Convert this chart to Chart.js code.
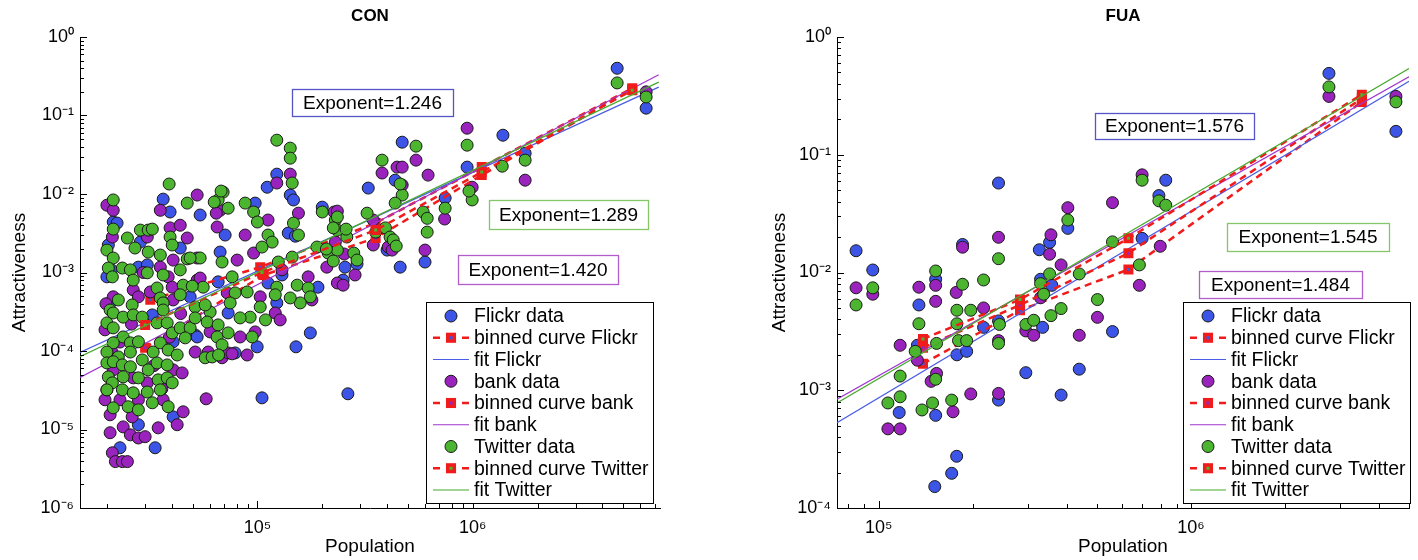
<!DOCTYPE html>
<html><head><meta charset="utf-8">
<script src="https://cdn.jsdelivr.net/npm/chart.js@4"></script>
<style>
html,body{margin:0;padding:0;background:#fff;width:1418px;height:560px;overflow:hidden}
canvas{position:absolute;top:0}
#c1{left:0}
#c2{left:757px}
</style></head><body>
<canvas id="c1" width="709" height="560"></canvas>
<canvas id="c2" width="661" height="560"></canvas>
<script>
// ---------------- DATA (population, attractiveness) ----------------
const seriesNames = ['Flickr', 'bank', 'Twitter'];
const titles = ['CON', 'FUA'];
const exponentsCON = ['1.246', '1.289', '1.420'];
const exponentsFUA = ['1.576', '1.545', '1.484'];

const conFlickr = [[3.65e4,8.6e-3],[3.93e4,5.9e-3],[2.14e4,4.4e-3],[2.23e4,4.26e-3],[2.03e4,2.24e-3],[2.86e4,2.44e-3],[4.38e4,2.05e-3],[2.0e4,8.8e-4],[2.8e4,1.17e-3],[3.08e4,1.25e-3],[2.1e4,1.08e-3],[2.07e4,4.1e-4],[4.87e4,4.9e-4],[3.25e4,2.88e-4],[5.14e4,1.6e-4],[4.06e4,1.31e-4],[2.8e4,1.15e-5],[4.06e4,1.45e-5],[3.35e4,5.85e-6],[2.3e4,5.85e-6],
[1.23e5,0.0179],[1.11e5,0.0122],[1.42e5,9.7e-3],[1.47e5,8.4e-3],[1.39e5,3.18e-3],[2.0e5,6.8e-3],[5.42e4,5.4e-3],[9.76e4,7.66e-3],[7.08e4,3.0e-3],[6.71e4,1.82e-3],[6.57e4,7.6e-4],[1.12e5,7.35e-4],[1.30e5,9.3e-4],[1.23e5,4.1e-4],[7.31e4,3.05e-4],[9.97e4,1.13e-4],[5.25e4,1.51e-4],[7.88e4,9.45e-5],[1.91e5,6.5e-4],[1.76e5,1.70e-4],[1.51e5,1.13e-4],[1.05e5,2.53e-5],
[4.7e5,0.0457],[1.38e6,0.0561],[9.41e5,0.022],[4.36e5,0.015],[3.27e5,0.0119],[7.44e5,8.9e-3],[6.0e5,1.36e-3],[4.6e5,1.17e-3],[2.55e5,1.17e-3],[2.5e5,8.0e-4],[1.5e5,2.9e-3],[2.9e5,1.28e-3],[4.0e5,1.93e-3],[4.68e6,0.40],[6.38e6,0.124],[2.63e5,2.85e-5],[1.75e6,0.033]];

const conBank = [[3.54e4,6.2e-3],[5.25e4,9.7e-3],[2.0e4,7.2e-3],[2.14e4,6.2e-3],[2.12e4,2.83e-3],[3.08e4,2.83e-3],[3.93e4,3.7e-3],[4.38e4,4.0e-3],[4.72e4,2.75e-3],[4.06e4,1.44e-3],[5.25e4,1.53e-3],[3.54e4,1.17e-3],[3.85e4,8.8e-4],[4.02e4,6.5e-4],[5.25e4,8.0e-4],[2.14e4,4.9e-4],[2.65e4,6.0e-4],[2.8e4,4.9e-4],[3.18e4,5.65e-4],[4.06e4,4.47e-4],[5.14e4,9.7e-5],[4.06e4,5.75e-5],[4.47e4,5.26e-5],[2.65e4,4.55e-5],[3.08e4,3.93e-5],[1.96e4,2.39e-5],[2.3e4,2.39e-5],[2.8e4,2.39e-5],[3.65e4,2.39e-5],[4.52e4,1.68e-5],[2.07e4,1.54e-5],[2.62e4,1.45e-5],[4.24e4,1.15e-5],[3.46e4,1.05e-5],[2.38e4,1.08e-5],[2.07e4,9.1e-6],[2.57e4,8.55e-6],[2.8e4,7.8e-6],[3.01e4,8.1e-6],[2.12e4,5.05e-6],[2.19e4,3.9e-6],[2.36e4,3.9e-6],[2.49e4,3.9e-6],[5.78e4,2.46e-5],
[2.0e4,3.2e-5],[2.14e4,5.75e-5],[1.96e4,1.86e-4],[2.3e4,1.3e-4],[3.3e4,6.5e-5],[2.6e4,2.2e-4],[3.9e4,1.5e-4],[2.1e4,1.0e-4],[4.4e4,3.0e-4],[1.98e4,4.0e-4],[3.6e4,3.3e-5],[2.95e4,1.0e-3],
[1.42e5,0.0179],[1.23e5,0.0138],[1.55e5,5.7e-3],[2.27e5,5.9e-3],[6.71e4,6.2e-3],[1.12e5,4.66e-3],[6.5e4,3.8e-3],[8.77e4,3.0e-3],[9.6e4,1.77e-3],[8.05e4,1.44e-3],[5.42e4,8.5e-4],[7.24e4,5.5e-4],[1.3e5,1.08e-3],[1.03e5,4.9e-4],[1.21e5,3.05e-4],[1.275e5,2.49e-4],[8.31e4,1.51e-4],[9.76e4,1.75e-4],[6.03e4,1.75e-4],[6.85e4,8.2e-5],[7.31e4,9.45e-5],[8.96e4,8.9e-5],[1.72e5,8.8e-4],[1.79e5,4.47e-4],[2.1e5,1.17e-3],[2.35e5,7.35e-4],
[9.41e5,0.0689],[9.93e5,0.0122],[1.75e6,0.015],[5.45e5,0.027],[3.79e5,0.0185],[4.45e5,0.022],[4.7e5,0.022],[4.7e5,0.013],[6.2e5,0.0174],[7.4e5,4.8e-3],[6.0e5,1.93e-3],[3.45e5,4.66e-3],[2.18e5,1.77e-3],[2.84e5,9.3e-4],[2.5e5,6.9e-4],[3.45e5,2.24e-3],[4.05e5,2.11e-3],[4.22e5,1.93e-3],[2.35e5,6.05e-3],[2.3e5,2.44e-3],[2.53e5,1.72e-3],[6.38e6,0.2],[6.44e4,5.7e-3],[5.91e4,9.7e-5],[7.63e4,9.2e-5]];

const conTwitter = [[3.89e4,0.0134],[4.72e4,7.66e-3],[2.14e4,8.4e-3],[2.14e4,3.57e-3],[2.49e4,2.75e-3],[2.0e4,1.93e-3],[2.14e4,1.53e-3],[2.86e4,3.47e-3],[3.11e4,3.47e-3],[2.7e4,2.05e-3],[3.11e4,1.82e-3],[3.54e4,1.67e-3],[3.93e4,2.83e-3],[4.02e4,2.24e-3],[4.72e4,1.49e-3],[2.03e4,1.14e-3],[2.12e4,8.8e-4],[2.36e4,1.14e-3],[2.57e4,1.08e-3],[2.65e4,8.0e-4],[3.08e4,9.9e-4],[3.65e4,9.3e-4],[3.42e4,6.35e-4],[4.38e4,1.08e-3],[4.52e4,6.9e-4],[2.26e4,4.47e-4],[2.07e4,3.33e-4],[2.14e4,3.05e-4],[2.62e4,3.86e-4],[3.54e4,4.74e-4],[3.65e4,4.1e-4],[4.38e4,5.2e-4],[5.14e4,3.64e-4],[2.0e4,2.28e-4],[2.14e4,1.97e-4],[2.38e4,2.7e-4],[2.65e4,2.88e-4],[2.92e4,2.7e-4],[3.42e4,2.28e-4],[3.81e4,2.28e-4],[4.02e4,1.70e-4],[4.38e4,1.97e-4],[4.87e4,1.97e-4],[4.62e4,1.47e-4],[3.65e4,3.33e-4],[2.38e4,1.51e-4],[2.57e4,1.27e-4],[2.14e4,1.27e-4],[2.0e4,9.7e-5],[2.26e4,8.4e-5],[2.57e4,9.7e-5],[2.8e4,1.31e-4],[3.28e4,9.7e-5],[3.54e4,1.27e-4],[3.85e4,1.03e-4],[4.24e4,8.9e-5],[2.0e4,7.05e-5],[2.14e4,7.3e-5],[2.36e4,6.65e-5],[2.57e4,6.3e-5],[2.92e4,7.7e-5],[3.11e4,5.75e-5],[3.42e4,7.05e-5],[3.81e4,6.65e-5],[2.03e4,4.68e-5],[2.12e4,3.93e-5],[2.38e4,4.68e-5],[2.8e4,4.55e-5],[3.46e4,4.29e-5],[3.81e4,4.55e-5],[4.02e4,3.93e-5],[2.0e4,3.2e-5],[2.36e4,3.2e-5],[2.65e4,2.93e-5],[3.08e4,3.0e-5],[3.54e4,3.2e-5],[2.14e4,1.89e-5],[2.51e4,1.95e-5],[2.8e4,1.78e-5],[3.25e4,2.19e-5],[3.85e4,1.95e-5],[3.25e4,3.57e-3],
[1.23e5,0.0485],[1.42e5,0.0384],[1.42e5,0.0286],[1.45e5,0.0138],[1.47e5,4.26e-3],[1.55e5,3.0e-3],[2.0e5,5.9e-3],[2.3e5,4.66e-3],[2.35e5,3.47e-3],[6.93e4,0.01057],[6.57e4,8.4e-3],[7.31e4,6.6e-3],[8.77e4,7.66e-3],[9.6e4,5.9e-3],[1.0e5,4.4e-3],[1.12e5,3.0e-3],[1.17e5,2.44e-3],[1.05e5,2.11e-3],[6.85e4,1.36e-3],[5.42e4,1.53e-3],[4.87e4,1.53e-3],[5.6e4,6.5e-4],[7.63e4,8.8e-4],[7.88e4,5.5e-4],[8.96e4,5.65e-4],[1.23e5,6.5e-4],[1.25e5,1.36e-3],[1.21e5,5.2e-4],[1.03e5,3.64e-4],[1.09e5,2.49e-4],[9.25e4,2.7e-4],[8.31e4,2.64e-4],[7.47e4,4.1e-4],[6.03e4,3.14e-4],[5.14e4,2.64e-4],[5.84e4,2.34e-4],[6.57e4,2.15e-4],[6.5e4,1.51e-4],[7.31e4,1.70e-4],[9.45e4,1.51e-4],[6.85e4,1.20e-4],[5.72e4,8.2e-5],[6.16e4,8.4e-5],[1.53e5,6.9e-4],[1.72e5,6.35e-4],[1.76e5,4.9e-4],[1.58e5,4.1e-4],[1.42e5,4.74e-4],[1.89e5,2.11e-3],[2.13e5,1.77e-3],[1.45e5,1.57e-3],
[9.41e5,0.0419],[9.93e5,8.4e-3],[9.6e5,0.0109],[1.75e6,0.027],[1.37e6,0.0226],[5.45e5,0.0407],[3.79e5,0.027],[4.7e5,9.7e-3],[4.36e5,7.66e-3],[4.6e5,0.0134],[7.44e5,6.6e-3],[5.88e5,5.9e-3],[6.14e5,4.9e-3],[6.14e5,3.27e-3],[3.23e5,5.7e-3],[2.35e5,5.1e-3],[2.25e5,3.7e-3],[2.6e5,2.83e-3],[2.35e5,1.93e-3],[2.8e5,1.77e-3],[2.9e5,1.44e-3],[3.54e5,3.27e-3],[3.93e5,3.7e-3],[4.13e5,2.83e-3],[4.27e5,2.6e-3],[4.41e5,2.17e-3],[4.68e6,0.26],[6.38e6,0.172],[2.09e5,1.99e-3],[2.25e5,1.40e-3],[2.58e5,3.57e-3],[6.3e4,7.9e-3],[6.78e4,0.0109],[4.98e4,6.7e-4],[5.72e4,3.86e-4],[6.6e4,8.9e-5]];

const conBinFlickr = [[3.18e4,4.5e-4],[1.03e5,1.17e-3],[3.54e5,4.26e-3],[1.1e6,0.022],[5.5e6,0.222]];
const conBinBank = [[3.01e4,1.1e-4],[1.07e5,9.3e-4],[3.54e5,2.75e-3],[1.1e6,0.0174],[5.5e6,0.215]];
const conBinTwitter = [[3.01e4,2.15e-4],[1.05e5,1.0e-3],[3.54e5,3.47e-3],[1.1e6,0.019],[5.5e6,0.21]];
const conFitFlickr = [[1.5e4,9.6e-5],[7.3e6,0.23]];
const conFitBank = [[1.5e4,4.6e-5],[7.3e6,0.33]];
const conFitTwitter = [[1.5e4,8.45e-5],[7.3e6,0.266]];

const fuaFlickr = [[8.46e4,0.0153],[9.57e4,0.0105],[1.345e5,5.3e-3],[1.33e5,2.41e-3],[1.163e5,6.47e-4],[1.522e5,8.76e-3],[1.522e5,6.12e-4],[1.512e5,1.52e-4],[1.713e5,1.97e-4],[1.777e5,2.75e-4],[1.78e5,2.0e-3],[1.913e5,2.14e-3],[1.856e5,0.0173],[2.167e5,3.42e-3],[2.42e5,0.0575],[2.42e5,8.25e-4],[2.42e5,3.88e-3],[2.96e5,1.41e-3],[3.27e5,0.0156],[3.527e5,0.018],[3.35e5,3.42e-3],[3.30e5,8.76e-3],[3.587e5,7.78e-3],[3.84e5,9.1e-4],[4.035e5,0.0237],[4.39e5,1.51e-3],[5.61e5,3.15e-3],[6.98e5,0.0195],[7.9e5,0.045],[8.31e5,0.0608],[2.77e6,0.491],[4.54e6,0.158]];
const fuaBank = [[8.46e4,7.41e-3],[9.57e4,6.54e-3],[1.07e5,4.7e-4],[1.171e5,4.7e-4],[1.171e5,2.41e-3],[1.345e5,7.5e-3],[1.33e5,1.8e-3],[1.472e5,1.19e-3],[1.522e5,5.69e-3],[1.522e5,7.78e-3],[1.532e5,1.39e-3],[1.771e5,6.77e-3],[1.856e5,0.0164],[1.73e5,6.56e-4],[1.972e5,9.3e-4],[2.167e5,5.0e-3],[2.42e5,0.0199],[2.42e5,2.64e-3],[2.42e5,9.4e-4],[2.96e5,3.19e-3],[3.137e5,2.93e-3],[3.30e5,6.1e-3],[3.527e5,0.0143],[3.563e5,0.0209],[3.84e5,0.0116],[4.035e5,0.0355],[4.39e5,2.93e-3],[5.02e5,4.16e-3],[5.61e5,0.0392],[6.84e5,7.78e-3],[6.98e5,0.0675],[7.98e5,0.0167],[2.77e6,0.313],[4.54e6,0.313]];
const fuaTwitter = [[8.46e4,5.3e-3],[9.57e4,7.41e-3],[1.07e5,7.8e-4],[1.171e5,8.8e-4],[1.171e5,1.32e-3],[1.309e5,2.14e-3],[1.345e5,3.67e-3],[1.376e5,6.8e-4],[1.487e5,7.8e-4],[1.522e5,1.24e-3],[1.522e5,0.0103],[1.532e5,2.5e-3],[1.713e5,8.25e-4],[1.78e5,4.78e-3],[1.78e5,3.67e-3],[1.801e5,2.64e-3],[1.856e5,7.94e-3],[1.913e5,2.64e-3],[1.972e5,4.78e-3],[2.167e5,8.64e-3],[2.42e5,0.0131],[2.437e5,3.62e-3],[2.42e5,2.5e-3],[2.96e5,3.62e-3],[3.137e5,3.93e-3],[3.30e5,8.05e-3],[3.377e5,6.54e-3],[3.527e5,9.73e-3],[3.563e5,4.3e-3],[3.84e5,4.94e-3],[4.035e5,0.0279],[4.39e5,9.73e-3],[5.02e5,5.89e-3],[5.61e5,0.0182],[6.84e5,0.0116],[6.98e5,0.0608],[7.9e5,0.0406],[8.31e5,0.0373],[2.77e6,0.377],[4.54e6,0.281]];
const fuaBinFlickr = [[1.386e5,1.68e-3],[2.836e5,4.78e-3],[6.31e5,0.0106],[3.53e6,0.281]];
const fuaBinBank = [[1.386e5,2.3e-3],[2.836e5,5.3e-3],[6.31e5,0.0146],[3.53e6,0.30]];
const fuaBinTwitter = [[1.386e5,2.73e-3],[2.836e5,5.89e-3],[6.31e5,0.0195],[3.53e6,0.324]];
const fuaFitFlickr = [[7.35e4,5.3e-4],[5.0e6,0.42]];
const fuaFitBank = [[7.35e4,8.4e-4],[5.0e6,0.46]];
const fuaFitTwitter = [[7.35e4,7.8e-4],[5.0e6,0.54]];

// ---------------- STYLE ----------------
const FONT = '"Liberation Sans", Arial, Helvetica, sans-serif';
Chart.defaults.font.family = FONT;
Chart.defaults.color = '#000';
const DOT = ['#3d55e6', '#9a22bd', '#4cb52f'];
const FITC = ['#4b5ce6', '#a035cf', '#47aa2e'];
const BOXC = ['#5555c8', '#84c668', '#b35ccb'];
const RED = '#f01c1c';

const SUP = {'-':'\u207B','0':'\u2070','1':'\u00B9','2':'\u00B2','3':'\u00B3','4':'\u2074','5':'\u2075','6':'\u2076','7':'\u2077','8':'\u2078','9':'\u2079'};
function powLabel(v) {
  const l = Math.log10(v), r = Math.round(l);
  if (Math.abs(l - r) > 1e-6) return '';
  return '10' + String(r).split('').map(c => SUP[c]).join('');
}
const toXY = a => a.map(([x, y]) => ({x, y}));

const innerTicks = {
  id: 'innerTicks',
  afterDatasetsDraw(chart) {
    const {ctx, chartArea: a, scales: {x, y}} = chart;
    const isInt = v => { const e = Math.floor(Math.log10(v) + 1e-9); const m = v / Math.pow(10, e); return Math.abs(m - Math.round(m)) < 1e-6; };
    const isMajor = v => Math.abs(Math.log10(v) - Math.round(Math.log10(v))) < 1e-6;
    ctx.save();
    ctx.strokeStyle = '#000'; ctx.lineWidth = 1;
    x.ticks.forEach(t => {
      if (!isInt(t.value)) return;
      const px = Math.round(x.getPixelForValue(t.value)) + 0.5;
      const len = isMajor(t.value) ? 7 : 4;
      ctx.beginPath(); ctx.moveTo(px, a.bottom); ctx.lineTo(px, a.bottom - len); ctx.stroke();
    });
    y.ticks.forEach(t => {
      if (!isInt(t.value)) return;
      const py = Math.round(y.getPixelForValue(t.value)) + 0.5;
      const len = isMajor(t.value) ? 7 : 4;
      ctx.beginPath(); ctx.moveTo(a.left, py); ctx.lineTo(a.left + len, py); ctx.stroke();
    });
    ctx.restore();
  }
};

const expBoxes = {
  id: 'expBoxes',
  afterDraw(chart, args, opts) {
    const ctx = chart.ctx;
    ctx.save();
    (opts.items || []).forEach(b => {
      ctx.fillStyle = '#fff';
      ctx.fillRect(b.x0, b.y0, b.x1 - b.x0, b.y1 - b.y0);
      ctx.strokeStyle = b.color; ctx.lineWidth = 1.3;
      ctx.strokeRect(b.x0 + 0.5, b.y0 + 0.5, b.x1 - b.x0, b.y1 - b.y0);
      ctx.fillStyle = '#000';
      ctx.font = '19px ' + FONT;
      ctx.textAlign = 'center'; ctx.textBaseline = 'middle';
      ctx.fillText(b.text, (b.x0 + b.x1) / 2, (b.y0 + b.y1) / 2 + 1);
    });
    ctx.restore();
  }
};

const boxLegend = {
  id: 'boxLegend',
  afterDraw(chart, args, o) {
    const ctx = chart.ctx;
    ctx.save();
    ctx.fillStyle = '#fff';
    ctx.fillRect(o.x0, o.y0, o.x1 - o.x0, o.y1 - o.y0);
    ctx.strokeStyle = '#000'; ctx.lineWidth = 1;
    ctx.strokeRect(o.x0 + 0.5, o.y0 + 0.5, o.x1 - o.x0, o.y1 - o.y0);
    chart.data.datasets.forEach((ds, i) => {
      const cy = o.y0 + o.firstRow + i * o.rowStep;
      if (ds.kind === 'data') {
        ctx.beginPath(); ctx.arc(o.markX, cy, 6, 0, Math.PI * 2);
        ctx.fillStyle = ds.pointBackgroundColor; ctx.fill();
        ctx.strokeStyle = '#1a1a1a'; ctx.lineWidth = 1; ctx.stroke();
      } else if (ds.kind === 'binned') {
        ctx.strokeStyle = RED; ctx.lineWidth = 2.5;
        ctx.beginPath(); ctx.moveTo(o.lineX0, cy); ctx.lineTo(o.lineX0 + 7, cy);
        ctx.moveTo(o.lineX1 - 7, cy); ctx.lineTo(o.lineX1, cy); ctx.stroke();
        ctx.fillStyle = ds.pointBackgroundColor;
        ctx.fillRect(o.markX - 3.3, cy - 3.3, 6.6, 6.6);
        ctx.lineWidth = 3.5; ctx.strokeStyle = RED;
        ctx.strokeRect(o.markX - 3.3, cy - 3.3, 6.6, 6.6);
      } else {
        ctx.strokeStyle = ds.borderColor; ctx.lineWidth = 1.2;
        ctx.beginPath(); ctx.moveTo(o.lineX0, cy); ctx.lineTo(o.lineX1, cy); ctx.stroke();
      }
      ctx.fillStyle = '#000';
      ctx.font = '19.5px ' + FONT;
      ctx.textAlign = 'left'; ctx.textBaseline = 'middle';
      ctx.fillText(ds.label, o.textX, cy + 1);
    });
    ctx.restore();
  }
};

function makeChart(canvas, p) {
  const datasets = [];
  p.series.forEach((s, k) => {
    datasets.push({label: seriesNames[k] + ' data', kind: 'data', data: toXY(s.data), showLine: false,
      pointRadius: 6, pointHoverRadius: 6, pointBackgroundColor: DOT[k], pointBorderColor: '#1a1a1a', pointBorderWidth: 1,
      order: 9 - 3 * k});
    datasets.push({label: 'binned curve ' + seriesNames[k], kind: 'binned', data: toXY(s.binned), showLine: true,
      borderColor: RED, borderWidth: 2.5, borderDash: [7, 5], tension: 0, fill: false,
      pointStyle: 'rect', pointRadius: 4.6, pointHoverRadius: 4.6, pointBackgroundColor: DOT[k], pointBorderColor: RED, pointBorderWidth: 3.5,
      order: 8 - 3 * k});
    datasets.push({label: 'fit ' + seriesNames[k], kind: 'fit', data: toXY(s.fit), showLine: true,
      borderColor: FITC[k], borderWidth: 1.2, pointRadius: 0, pointHoverRadius: 0, tension: 0, fill: false,
      order: 7 - 3 * k});
  });
  return new Chart(canvas, {
    type: 'scatter',
    data: {datasets},
    plugins: [innerTicks, expBoxes, boxLegend],
    options: {
      responsive: false, animation: false, events: [],
      layout: {padding: {left: 0, right: p.padRight, top: 0, bottom: 0}},
      plugins: {
        legend: {display: false}, tooltip: {enabled: false},
        title: {display: true, text: p.title, fullSize: false, color: '#000',
          font: {size: 17, weight: 'bold'}, padding: {top: 6, bottom: 10.6}},
        expBoxes: {items: p.boxes},
        boxLegend: {x0: 426, y0: 302, x1: 653, y1: 503, firstRow: 14, rowStep: 21.75,
          lineX0: 433, lineX1: 469, markX: 451, textX: 474}
      },
      scales: {
        x: {type: 'logarithmic', min: p.xmin, max: p.xmax,
          grid: {display: false, drawTicks: false}, border: {display: true, color: '#000', width: 1},
          ticks: {autoSkip: false, maxRotation: 0, minRotation: 0, color: '#000', font: {size: 18}, padding: 9,
            callback: v => powLabel(v)},
          title: {display: true, text: 'Population', color: '#000', font: {size: 19}, padding: {top: 0, bottom: 2}},
          afterFit: s => { s.height = 52; }},
        y: {type: 'logarithmic', min: p.ymin, max: p.ymax,
          grid: {display: false, drawTicks: false}, border: {display: true, color: '#000', width: 1},
          ticks: {autoSkip: false, color: '#000', font: {size: 18}, padding: 6,
            callback: v => powLabel(v)},
          title: {display: true, text: 'Attractiveness', color: '#000', font: {size: 19}, padding: {top: p.yTitlePad, bottom: 0}},
          afterFit: s => { s.width = 80; }}
      }
    }
  });
}

makeChart(document.getElementById('c1'), {
  title: titles[0], xmin: 1.5e4, xmax: 7.4e6, ymin: 1e-6, ymax: 1, padRight: 49, yTitlePad: 8.6,
  series: [
    {data: conFlickr, binned: conBinFlickr, fit: conFitFlickr},
    {data: conBank, binned: conBinBank, fit: conFitBank},
    {data: conTwitter, binned: conBinTwitter, fit: conFitTwitter}],
  boxes: [
    {text: 'Exponent=' + exponentsCON[0], x0: 292, y0: 89, x1: 453, y1: 116, color: BOXC[0]},
    {text: 'Exponent=' + exponentsCON[1], x0: 489, y0: 200, x1: 648, y1: 229, color: BOXC[1]},
    {text: 'Exponent=' + exponentsCON[2], x0: 458, y0: 255, x1: 618, y1: 284, color: BOXC[2]}]
});

makeChart(document.getElementById('c2'), {
  title: titles[1], xmin: 7.35e4, xmax: 5.0e6, ymin: 1e-4, ymax: 1, padRight: 6, yTitlePad: 11.6,
  series: [
    {data: fuaFlickr, binned: fuaBinFlickr, fit: fuaFitFlickr},
    {data: fuaBank, binned: fuaBinBank, fit: fuaFitBank},
    {data: fuaTwitter, binned: fuaBinTwitter, fit: fuaFitTwitter}],
  boxes: [
    {text: 'Exponent=' + exponentsFUA[0], x0: 338, y0: 113, x1: 497, y1: 139, color: BOXC[0]},
    {text: 'Exponent=' + exponentsFUA[1], x0: 470, y0: 223, x1: 632, y1: 251, color: BOXC[1]},
    {text: 'Exponent=' + exponentsFUA[2], x0: 442, y0: 271, x1: 605, y1: 298, color: BOXC[2]}]
});
</script>
</body></html>
